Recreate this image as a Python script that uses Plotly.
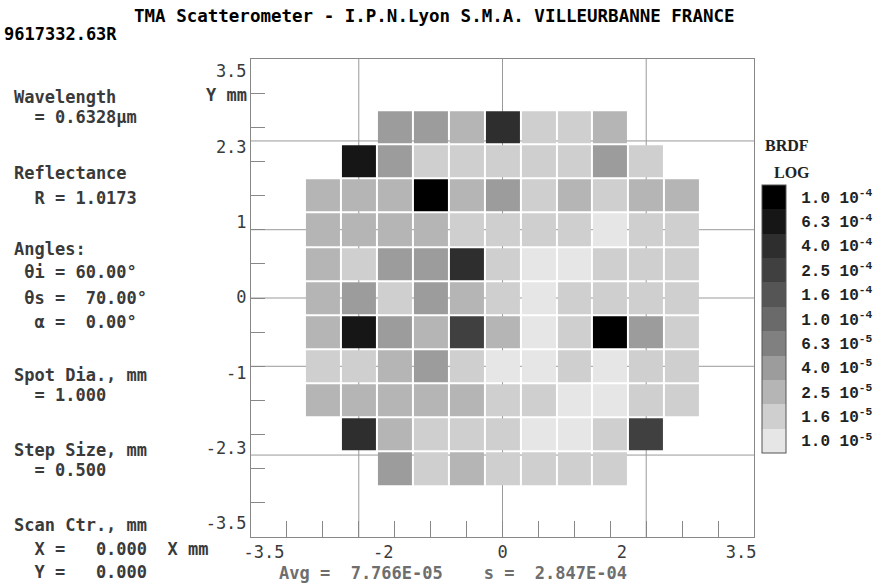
import numpy as np
import plotly.graph_objects as go

# scan grid (mm), step 0.5
x_mm = [-2.5, -2.0, -1.5, -1.0, -0.5, 0.0, 0.5, 1.0, 1.5, 2.0, 2.5]
y_mm = [2.5, 2.0, 1.5, 1.0, 0.5, 0.0, -0.5, -1.0, -1.5, -2.0, -2.5]

# BRDF per cell, rows top->bottom, None = outside the scanned disc
brdf_rows = [
	[None, None, 4.0e-5, 4.0e-5, 2.5e-5, 4.0e-4, 1.6e-5, 1.6e-5, 2.5e-5, None, None],
	[None, 6.3e-4, 4.0e-5, 1.6e-5, 1.6e-5, 1.6e-5, 1.6e-5, 1.6e-5, 4.0e-5, 1.6e-5, None],
	[2.5e-5, 2.5e-5, 2.5e-5, 1.0e-3, 2.5e-5, 4.0e-5, 1.6e-5, 2.5e-5, 1.6e-5, 2.5e-5, 2.5e-5],
	[2.5e-5, 2.5e-5, 2.5e-5, 2.5e-5, 1.6e-5, 1.6e-5, 1.6e-5, 1.6e-5, 1.0e-5, 1.6e-5, 1.6e-5],
	[2.5e-5, 1.6e-5, 4.0e-5, 4.0e-5, 4.0e-4, 1.6e-5, 1.0e-5, 1.0e-5, 1.6e-5, 1.6e-5, 1.6e-5],
	[2.5e-5, 4.0e-5, 1.6e-5, 4.0e-5, 2.5e-5, 1.6e-5, 1.0e-5, 1.6e-5, 1.6e-5, 1.6e-5, 1.6e-5],
	[2.5e-5, 6.3e-4, 4.0e-5, 2.5e-5, 2.5e-4, 2.5e-5, 1.0e-5, 1.6e-5, 1.0e-3, 4.0e-5, 1.6e-5],
	[1.6e-5, 1.6e-5, 2.5e-5, 4.0e-5, 1.6e-5, 1.0e-5, 1.0e-5, 1.6e-5, 1.0e-5, 1.6e-5, 1.6e-5],
	[2.5e-5, 2.5e-5, 2.5e-5, 2.5e-5, 2.5e-5, 1.6e-5, 1.6e-5, 1.0e-5, 1.0e-5, 1.6e-5, 1.6e-5],
	[None, 4.0e-4, 2.5e-5, 1.6e-5, 1.6e-5, 1.6e-5, 1.0e-5, 1.0e-5, 1.6e-5, 2.5e-4, None],
	[None, None, 4.0e-5, 1.6e-5, 2.5e-5, 1.6e-5, 1.6e-5, 1.6e-5, 1.6e-5, None, None],
]

# legend levels (low -> high) and their labels as printed
legend_vals = [1.0e-5, 1.6e-5, 2.5e-5, 4.0e-5, 6.3e-5, 1.0e-4, 1.6e-4, 2.5e-4, 4.0e-4, 6.3e-4, 1.0e-3]
legend_text = ["1.0 10<sup>-5</sup>", "1.6 10<sup>-5</sup>", "2.5 10<sup>-5</sup>", "4.0 10<sup>-5</sup>",
	"6.3 10<sup>-5</sup>", "1.0 10<sup>-4</sup>", "1.6 10<sup>-4</sup>", "2.5 10<sup>-4</sup>",
	"4.0 10<sup>-4</sup>", "6.3 10<sup>-4</sup>", "1.0 10<sup>-4</sup>"]
grays = ["#e6e6e6", "#cfcfcf", "#b5b5b5", "#9c9c9c", "#808080", "#6a6a6a",
	"#555555", "#404040", "#2e2e2e", "#161616", "#000000"]

x_ticks = ["-3.5", "-2", "0", "2", "3.5"]
y_ticks = ["3.5", "2.3", "1", "0", "-1", "-2.3", "-3.5"]
x_grid = [-2, 0, 2]
y_grid = [2.3, 1, 0, -1, -2.3]

title = "TMA Scatterometer - I.P.N.Lyon S.M.A. VILLEURBANNE FRANCE"
run_id = "9617332.63R"
info_lines = [
	"Wavelength", "  = 0.6328µm", "Reflectance", "  R = 1.0173", "Angles:",
	" θi = 60.00°", " θs =  70.00°", "  α =  0.00°", "Spot Dia., mm", "  = 1.000",
	"Step Size, mm", "  = 0.500", "Scan Ctr., mm", "  X =   0.000  X mm", "  Y =   0.000",
]
info_y = [97, 117, 173, 198, 249, 272, 298, 322, 375, 395, 450, 470, 525, 549, 572]
stats = "Avg =  7.766E-05    s =  2.847E-04"

# page geometry in pixels
W, H = 885, 588
L, R, T, B = 251, 757, 59, 537

def fx(p):
	return (p - L) / (R - L)

def fy(p):
	return (B - p) / (B - T)

nb = len(legend_vals)
levels = np.log10(legend_vals)
zmin, zmax = levels[0] - 0.1, levels[-1] + 0.1
cscale = []
for i, c in enumerate(grays):
	cscale.append([i / nb, c])
	cscale.append([(i + 1) / nb, c])

z = [[None if v is None else np.log10(v) for v in row] for row in brdf_rows]

cb_top, cb_bot = 185, 453
fig = go.Figure(go.Heatmap(
	x=x_mm, y=y_mm, z=z, zmin=zmin, zmax=zmax, colorscale=cscale,
	xgap=2, ygap=2, hoverongaps=False,
	colorbar=dict(
		x=fx(765), xanchor="left", xpad=0,
		y=fy((cb_top + cb_bot) / 2), yanchor="middle", ypad=0,
		len=(cb_bot - cb_top) / (B - T), lenmode="fraction",
		thickness=24, thicknessmode="pixels",
		outlinewidth=1, outlinecolor="#555",
		tickvals=list(levels), ticktext=["<b>" + t + "</b>" for t in legend_text],
		ticks="outside", ticklen=12, tickcolor="rgba(0,0,0,0)",
		tickfont=dict(family="Liberation Mono", size=16, color="#222"),
	),
))

mono = "DejaVu Sans Mono"
shapes = []
for gx in x_grid:
	shapes.append(dict(type="line", xref="x", yref="paper", x0=gx, x1=gx, y0=0, y1=1,
		line=dict(color="#9a9a9a", width=1), layer="below"))
for gy in y_grid:
	shapes.append(dict(type="line", xref="paper", yref="y", x0=0, x1=1, y0=gy, y1=gy,
		line=dict(color="#9a9a9a", width=1), layer="below"))
# separators between legend bins
for i in range(1, nb):
	yy = cb_top + i * (cb_bot - cb_top) / nb
	shapes.append(dict(type="line", xref="paper", yref="paper", x0=fx(765), x1=fx(789),
		y0=fy(yy), y1=fy(yy), line=dict(color="#333", width=1)))

def label(txt, px, py, size=17, color="#3a3a3a", anchor="left", family=mono):
	return dict(text=txt, x=fx(px), y=fy(py), xref="paper", yref="paper",
		xanchor=anchor, yanchor="middle", showarrow=False,
		font=dict(family=family, size=size, color=color))

ann = []
ann.append(label("<b>" + title + "</b>", 436, 16, size=17.5, color="#000", anchor="center"))
ann.append(label("<b>" + run_id + "</b>", 1, 34, color="#000"))
for txt, yy in zip(info_lines, info_y):
	ann.append(label("<b>" + txt.replace(" ", "\u00a0") + "</b>", 11, yy))
ann.append(label("<b>Y\u00a0mm</b>", 249, 95, anchor="right"))
ann.append(label("<b>" + stats.replace(" ", "\u00a0") + "</b>", 277, 573, color="#6e6e6e"))
ann.append(label("<b>BRDF</b>", 790, 145, size=16, color="#222", anchor="center", family="Liberation Serif"))
ann.append(label("<b>LOG</b>", 795, 172, size=16, color="#222", anchor="center", family="Liberation Serif"))

# tick labels sit evenly spaced along each axis on the original print
x_lab_pos = list(np.linspace(-3.32, 3.32, len(x_ticks)))
y_lab_pos = list(np.linspace(3.32, -3.30, len(y_ticks)))
minor_vals = list(np.arange(-3.0, 3.01, 0.5))

fig.update_layout(
	width=W, height=H,
	margin=dict(l=L, r=W - R, t=T, b=H - B, pad=0),
	paper_bgcolor="white", plot_bgcolor="white",
	shapes=shapes, annotations=ann, showlegend=False,
	xaxis=dict(range=[-3.5, 3.5], tickvals=x_lab_pos, ticktext=x_ticks, ticks="",
		showgrid=False, zeroline=False, showline=True, mirror=True, linecolor="#888", linewidth=1,
		tickfont=dict(family=mono, size=17, color="#3a3a3a"),
		minor=dict(tickvals=minor_vals, ticks="inside", ticklen=16, tickcolor="#888", showgrid=False)),
	yaxis=dict(range=[-3.5, 3.5], tickvals=y_lab_pos, ticktext=y_ticks, ticks="",
		showgrid=False, zeroline=False, showline=True, mirror=True, linecolor="#888", linewidth=1,
		tickfont=dict(family=mono, size=17, color="#3a3a3a"),
		minor=dict(tickvals=minor_vals, ticks="inside", ticklen=14, tickcolor="#888", showgrid=False)),
)

# page body has a default 8px margin; drop it so the figure fills the window
fig.write_html("out.html", config={"displayModeBar": False},
	post_script="document.body.style.margin='0';")
